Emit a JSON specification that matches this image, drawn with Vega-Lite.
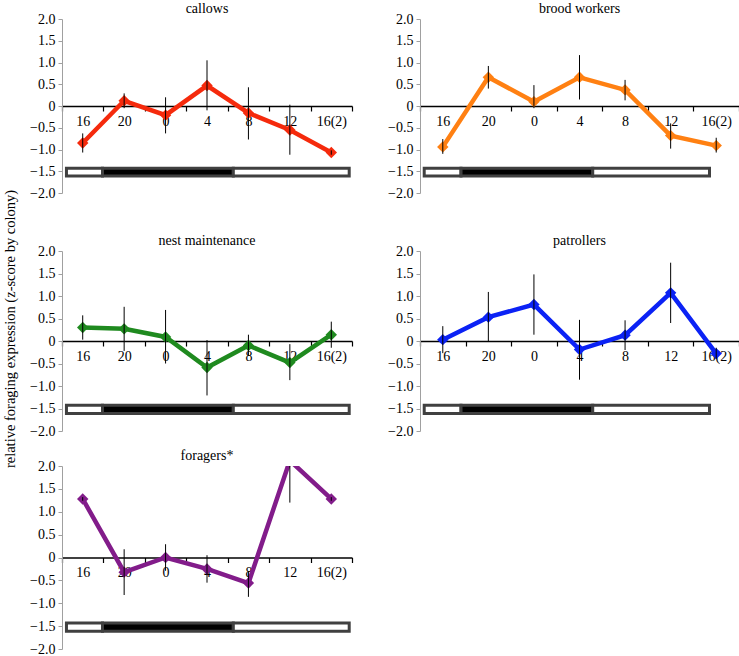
{
  "$schema": "https://vega.github.io/schema/vega-lite/v6.json",
  "padding": {"left": 3, "top": 2, "right": 0, "bottom": 0},
  "background": "white",
  "title": {"text": "relative foraging expression (z-score by colony)", "orient": "left", "anchor": "middle", "fontSize": 14.5, "offset": 11, "font": "Liberation Serif", "fontWeight": "normal", "frame": "bounds", "dy": 0},
  "datasets": {
    "series": [
      {"panel": "callows", "time": "16", "mean": -0.85, "lo": -1.07, "hi": -0.63},
      {"panel": "callows", "time": "20", "mean": 0.12, "lo": -0.05, "hi": 0.29},
      {"panel": "callows", "time": "0", "mean": -0.21, "lo": -0.63, "hi": 0.2},
      {"panel": "callows", "time": "4", "mean": 0.47, "lo": -0.1, "hi": 1.05},
      {"panel": "callows", "time": "8", "mean": -0.16, "lo": -0.77, "hi": 0.43},
      {"panel": "callows", "time": "12", "mean": -0.55, "lo": -1.12, "hi": 0.03},
      {"panel": "callows", "time": "16(2)", "mean": -1.07, "lo": -1.12, "hi": -1.02},
      {"panel": "brood workers", "time": "16", "mean": -0.94, "lo": -1.1, "hi": -0.76},
      {"panel": "brood workers", "time": "20", "mean": 0.66, "lo": 0.4, "hi": 0.92},
      {"panel": "brood workers", "time": "0", "mean": 0.1, "lo": -0.05, "hi": 0.48},
      {"panel": "brood workers", "time": "4", "mean": 0.66, "lo": 0.15, "hi": 1.17},
      {"panel": "brood workers", "time": "8", "mean": 0.37, "lo": 0.13, "hi": 0.6},
      {"panel": "brood workers", "time": "12", "mean": -0.68, "lo": -0.98, "hi": -0.4},
      {"panel": "brood workers", "time": "16(2)", "mean": -0.91, "lo": -1.07, "hi": -0.73},
      {"panel": "nest maintenance", "time": "16", "mean": 0.3, "lo": 0.03, "hi": 0.57},
      {"panel": "nest maintenance", "time": "20", "mean": 0.27, "lo": -0.22, "hi": 0.76},
      {"panel": "nest maintenance", "time": "0", "mean": 0.09, "lo": -0.5, "hi": 0.69},
      {"panel": "nest maintenance", "time": "4", "mean": -0.59, "lo": -1.21, "hi": 0.02},
      {"panel": "nest maintenance", "time": "8", "mean": -0.1, "lo": -0.33, "hi": 0.14},
      {"panel": "nest maintenance", "time": "12", "mean": -0.48, "lo": -0.87, "hi": -0.07},
      {"panel": "nest maintenance", "time": "16(2)", "mean": 0.14, "lo": -0.15, "hi": 0.43},
      {"panel": "patrollers", "time": "16", "mean": 0.03, "lo": -0.27, "hi": 0.33},
      {"panel": "patrollers", "time": "20", "mean": 0.53, "lo": -0.02, "hi": 1.09},
      {"panel": "patrollers", "time": "0", "mean": 0.81, "lo": 0.14, "hi": 1.48},
      {"panel": "patrollers", "time": "4", "mean": -0.19, "lo": -0.86, "hi": 0.47},
      {"panel": "patrollers", "time": "8", "mean": 0.13, "lo": -0.2, "hi": 0.46},
      {"panel": "patrollers", "time": "12", "mean": 1.07, "lo": 0.4, "hi": 1.74},
      {"panel": "patrollers", "time": "16(2)", "mean": -0.28, "lo": -0.4, "hi": -0.15},
      {"panel": "foragers*", "time": "16", "mean": 1.28, "lo": 1.24, "hi": 1.32},
      {"panel": "foragers*", "time": "20", "mean": -0.32, "lo": -0.82, "hi": 0.18},
      {"panel": "foragers*", "time": "0", "mean": 0.0, "lo": -0.29, "hi": 0.29},
      {"panel": "foragers*", "time": "4", "mean": -0.25, "lo": -0.55, "hi": 0.05},
      {"panel": "foragers*", "time": "8", "mean": -0.56, "lo": -0.86, "hi": -0.3},
      {"panel": "foragers*", "time": "12", "mean": 2.12, "lo": 1.2, "hi": 3.0},
      {"panel": "foragers*", "time": "16(2)", "mean": 1.28, "lo": 1.24, "hi": 1.32}
    ],
    "lights": [
      {"panel": "callows", "phase": "light", "start": 14.43, "end": 17.91},
      {"panel": "callows", "phase": "dark", "start": 17.91, "end": 30.54},
      {"panel": "callows", "phase": "light", "start": 30.54, "end": 41.73},
      {"panel": "nest maintenance", "phase": "light", "start": 14.43, "end": 17.91},
      {"panel": "nest maintenance", "phase": "dark", "start": 17.91, "end": 30.54},
      {"panel": "nest maintenance", "phase": "light", "start": 30.54, "end": 41.73},
      {"panel": "foragers*", "phase": "light", "start": 14.43, "end": 17.91},
      {"panel": "foragers*", "phase": "dark", "start": 17.91, "end": 30.54},
      {"panel": "foragers*", "phase": "light", "start": 30.54, "end": 41.73},
      {"panel": "brood workers", "phase": "light", "start": 14.37, "end": 17.6},
      {"panel": "brood workers", "phase": "dark", "start": 17.6, "end": 29.16},
      {"panel": "brood workers", "phase": "light", "start": 29.16, "end": 39.41},
      {"panel": "patrollers", "phase": "light", "start": 14.37, "end": 17.6},
      {"panel": "patrollers", "phase": "dark", "start": 17.6, "end": 29.16},
      {"panel": "patrollers", "phase": "light", "start": 29.16, "end": 39.41}
    ]
  },
  "vconcat": [
    {
      "vconcat": [
        {
          "hconcat": [
            {
              "width": 290, "height": 174,
              "title": "callows",
              "layer": [
                {"data": {"name": "lights"}, "transform": [{"filter": "datum.panel == 'callows'"}],
                 "mark": {"type": "rect", "stroke": "#404040", "strokeWidth": 3},
                 "encoding": {
                   "x": {"field": "start", "type": "quantitative", "scale": {"domain": [14, 42], "nice": false, "zero": false}, "axis": null},
                   "x2": {"field": "end"},
                   "y": {"datum": -1.43, "type": "quantitative", "title": null, "scale": {"domain": [-2, 2], "nice": false}, "axis": {"orient": "left", "labelFont": "Liberation Serif", "values": [-2, -1.5, -1, -0.5, 0, 0.5, 1, 1.5, 2]}},
                   "y2": {"datum": -1.61},
                   "fill": {"field": "phase", "type": "nominal", "scale": {"domain": ["light", "dark"], "range": ["#ffffff", "#000000"]}, "legend": null}
                 }},
                {
                  "data": {"name": "series"}, "transform": [{"filter": "datum.panel == 'callows'"}],
                  "encoding": {
                    "x": {"field": "time", "type": "ordinal", "title": null, "sort": ["16", "20", "0", "4", "8", "12", "16(2)"], "scale": {"paddingInner": 0, "paddingOuter": 0}, "axis": {"orient": "bottom", "offset": -87}},
                    "y": {"field": "mean", "type": "quantitative", "title": null, "scale": {"domain": [-2, 2], "nice": false}, "axis": {"orient": "left", "labelFont": "Liberation Serif", "values": [-2, -1.5, -1, -0.5, 0, 0.5, 1, 1.5, 2]}}
                  },
                  "layer": [
                    {"mark": {"type": "line", "color": "#f52a0c", "strokeWidth": 4.5, "clip": true}},
                    {"mark": {"type": "point", "shape": "diamond", "filled": true, "opacity": 1, "size": 130, "color": "#f52a0c", "clip": true}},
                    {"mark": {"type": "rule", "color": "black", "strokeWidth": 1, "clip": true},
                     "encoding": {"y": {"field": "lo", "type": "quantitative"}, "y2": {"field": "hi"}}}
                  ]
                }
              ],
              "resolve": {"scale": {"x": "independent"}}
            },
            {
              "width": 319, "height": 174,
              "title": "brood workers",
              "layer": [
                {"data": {"name": "lights"}, "transform": [{"filter": "datum.panel == 'brood workers'"}],
                 "mark": {"type": "rect", "stroke": "#404040", "strokeWidth": 3},
                 "encoding": {
                   "x": {"field": "start", "type": "quantitative", "scale": {"domain": [14, 42], "nice": false, "zero": false}, "axis": null},
                   "x2": {"field": "end"},
                   "y": {"datum": -1.43, "type": "quantitative", "title": null, "scale": {"domain": [-2, 2], "nice": false}, "axis": {"orient": "left", "labelFont": "Liberation Serif", "values": [-2, -1.5, -1, -0.5, 0, 0.5, 1, 1.5, 2]}},
                   "y2": {"datum": -1.61},
                   "fill": {"field": "phase", "type": "nominal", "scale": {"domain": ["light", "dark"], "range": ["#ffffff", "#000000"]}, "legend": null}
                 }},
                {
                  "data": {"name": "series"}, "transform": [{"filter": "datum.panel == 'brood workers'"}],
                  "encoding": {
                    "x": {"field": "time", "type": "ordinal", "title": null, "sort": ["16", "20", "0", "4", "8", "12", "16(2)"], "scale": {"paddingInner": 0, "paddingOuter": 0}, "axis": {"orient": "bottom", "offset": -87}},
                    "y": {"field": "mean", "type": "quantitative", "title": null, "scale": {"domain": [-2, 2], "nice": false}, "axis": {"orient": "left", "labelFont": "Liberation Serif", "values": [-2, -1.5, -1, -0.5, 0, 0.5, 1, 1.5, 2]}}
                  },
                  "layer": [
                    {"mark": {"type": "line", "color": "#ff8012", "strokeWidth": 4.5, "clip": true}},
                    {"mark": {"type": "point", "shape": "diamond", "filled": true, "opacity": 1, "size": 130, "color": "#ff8012", "clip": true}},
                    {"mark": {"type": "rule", "color": "black", "strokeWidth": 1, "clip": true},
                     "encoding": {"y": {"field": "lo", "type": "quantitative"}, "y2": {"field": "hi"}}}
                  ]
                }
              ],
              "resolve": {"scale": {"x": "independent"}}
            }
          ],
          "spacing": 34
        },
        {
          "hconcat": [
            {
              "width": 290, "height": 180,
              "title": "nest maintenance",
              "layer": [
                {"data": {"name": "lights"}, "transform": [{"filter": "datum.panel == 'nest maintenance'"}],
                 "mark": {"type": "rect", "stroke": "#404040", "strokeWidth": 3},
                 "encoding": {
                   "x": {"field": "start", "type": "quantitative", "scale": {"domain": [14, 42], "nice": false, "zero": false}, "axis": null},
                   "x2": {"field": "end"},
                   "y": {"datum": -1.43, "type": "quantitative", "title": null, "scale": {"domain": [-2, 2], "nice": false}, "axis": {"orient": "left", "labelFont": "Liberation Serif", "values": [-2, -1.5, -1, -0.5, 0, 0.5, 1, 1.5, 2]}},
                   "y2": {"datum": -1.61},
                   "fill": {"field": "phase", "type": "nominal", "scale": {"domain": ["light", "dark"], "range": ["#ffffff", "#000000"]}, "legend": null}
                 }},
                {
                  "data": {"name": "series"}, "transform": [{"filter": "datum.panel == 'nest maintenance'"}],
                  "encoding": {
                    "x": {"field": "time", "type": "ordinal", "title": null, "sort": ["16", "20", "0", "4", "8", "12", "16(2)"], "scale": {"paddingInner": 0, "paddingOuter": 0}, "axis": {"orient": "bottom", "offset": -90}},
                    "y": {"field": "mean", "type": "quantitative", "title": null, "scale": {"domain": [-2, 2], "nice": false}, "axis": {"orient": "left", "labelFont": "Liberation Serif", "values": [-2, -1.5, -1, -0.5, 0, 0.5, 1, 1.5, 2]}}
                  },
                  "layer": [
                    {"mark": {"type": "line", "color": "#1f8a1f", "strokeWidth": 4.5, "clip": true}},
                    {"mark": {"type": "point", "shape": "diamond", "filled": true, "opacity": 1, "size": 130, "color": "#1f8a1f", "clip": true}},
                    {"mark": {"type": "rule", "color": "black", "strokeWidth": 1, "clip": true},
                     "encoding": {"y": {"field": "lo", "type": "quantitative"}, "y2": {"field": "hi"}}}
                  ]
                }
              ],
              "resolve": {"scale": {"x": "independent"}}
            },
            {
              "width": 319, "height": 180,
              "title": "patrollers",
              "layer": [
                {"data": {"name": "lights"}, "transform": [{"filter": "datum.panel == 'patrollers'"}],
                 "mark": {"type": "rect", "stroke": "#404040", "strokeWidth": 3},
                 "encoding": {
                   "x": {"field": "start", "type": "quantitative", "scale": {"domain": [14, 42], "nice": false, "zero": false}, "axis": null},
                   "x2": {"field": "end"},
                   "y": {"datum": -1.43, "type": "quantitative", "title": null, "scale": {"domain": [-2, 2], "nice": false}, "axis": {"orient": "left", "labelFont": "Liberation Serif", "values": [-2, -1.5, -1, -0.5, 0, 0.5, 1, 1.5, 2]}},
                   "y2": {"datum": -1.61},
                   "fill": {"field": "phase", "type": "nominal", "scale": {"domain": ["light", "dark"], "range": ["#ffffff", "#000000"]}, "legend": null}
                 }},
                {
                  "data": {"name": "series"}, "transform": [{"filter": "datum.panel == 'patrollers'"}],
                  "encoding": {
                    "x": {"field": "time", "type": "ordinal", "title": null, "sort": ["16", "20", "0", "4", "8", "12", "16(2)"], "scale": {"paddingInner": 0, "paddingOuter": 0}, "axis": {"orient": "bottom", "offset": -90}},
                    "y": {"field": "mean", "type": "quantitative", "title": null, "scale": {"domain": [-2, 2], "nice": false}, "axis": {"orient": "left", "labelFont": "Liberation Serif", "values": [-2, -1.5, -1, -0.5, 0, 0.5, 1, 1.5, 2]}}
                  },
                  "layer": [
                    {"mark": {"type": "line", "color": "#0b22f5", "strokeWidth": 4.5, "clip": true}},
                    {"mark": {"type": "point", "shape": "diamond", "filled": true, "opacity": 1, "size": 130, "color": "#0b22f5", "clip": true}},
                    {"mark": {"type": "rule", "color": "black", "strokeWidth": 1, "clip": true},
                     "encoding": {"y": {"field": "lo", "type": "quantitative"}, "y2": {"field": "hi"}}}
                  ]
                }
              ],
              "resolve": {"scale": {"x": "independent"}}
            }
          ],
          "spacing": 34
        }
      ],
      "spacing": 34
    },
    {
      "width": 290, "height": 183,
      "title": "foragers*",
      "layer": [
        {"data": {"name": "lights"}, "transform": [{"filter": "datum.panel == 'foragers*'"}],
         "mark": {"type": "rect", "stroke": "#404040", "strokeWidth": 3},
         "encoding": {
           "x": {"field": "start", "type": "quantitative", "scale": {"domain": [14, 42], "nice": false, "zero": false}, "axis": null},
           "x2": {"field": "end"},
           "y": {"datum": -1.43, "type": "quantitative", "title": null, "scale": {"domain": [-2, 2], "nice": false}, "axis": {"orient": "left", "labelFont": "Liberation Serif", "values": [-2, -1.5, -1, -0.5, 0, 0.5, 1, 1.5, 2]}},
           "y2": {"datum": -1.61},
           "fill": {"field": "phase", "type": "nominal", "scale": {"domain": ["light", "dark"], "range": ["#ffffff", "#000000"]}, "legend": null}
         }},
        {
          "data": {"name": "series"}, "transform": [{"filter": "datum.panel == 'foragers*'"}],
          "encoding": {
            "x": {"field": "time", "type": "ordinal", "title": null, "sort": ["16", "20", "0", "4", "8", "12", "16(2)"], "scale": {"paddingInner": 0, "paddingOuter": 0}, "axis": {"orient": "bottom", "offset": -91.5}},
            "y": {"field": "mean", "type": "quantitative", "title": null, "scale": {"domain": [-2, 2], "nice": false}, "axis": {"orient": "left", "labelFont": "Liberation Serif", "values": [-2, -1.5, -1, -0.5, 0, 0.5, 1, 1.5, 2]}}
          },
          "layer": [
            {"mark": {"type": "line", "color": "#821c8a", "strokeWidth": 4.5, "clip": true}},
            {"mark": {"type": "point", "shape": "diamond", "filled": true, "opacity": 1, "size": 130, "color": "#821c8a", "clip": true}},
            {"mark": {"type": "rule", "color": "black", "strokeWidth": 1, "clip": true},
             "encoding": {"y": {"field": "lo", "type": "quantitative"}, "y2": {"field": "hi"}}}
          ]
        }
      ],
      "resolve": {"scale": {"x": "independent"}}
    }
  ],
  "spacing": 11,
  "config": {
    "font": "Liberation Serif",
    "view": {"stroke": null},
    "title": {"font": "Liberation Serif", "fontSize": 14, "fontWeight": "normal", "color": "black", "offset": -4, "anchor": "middle", "frame": "group"},
    "axis": {"labelFont": "Liberation Serif"},
    "axisX": {"domainColor": "black", "domainWidth": 1.5, "tickColor": "black", "tickSize": 5, "tickWidth": 1.2, "tickBand": "extent", "labelFontSize": 14, "labelFont": "Liberation Serif", "labelColor": "black", "labelAngle": 0, "labelPadding": 3, "grid": false, "labelOverlap": false},
    "axisY": {"domainColor": "#a0a0a0", "tickColor": "#a0a0a0", "tickSize": 4, "labelFontSize": 14, "labelFont": "Liberation Serif", "labelColor": "black", "labelPadding": 3, "grid": false, "labelOverlap": false, "labelExpr": "datum.value == 0 ? '0' : format(datum.value, '.1f')"}
  }
}
